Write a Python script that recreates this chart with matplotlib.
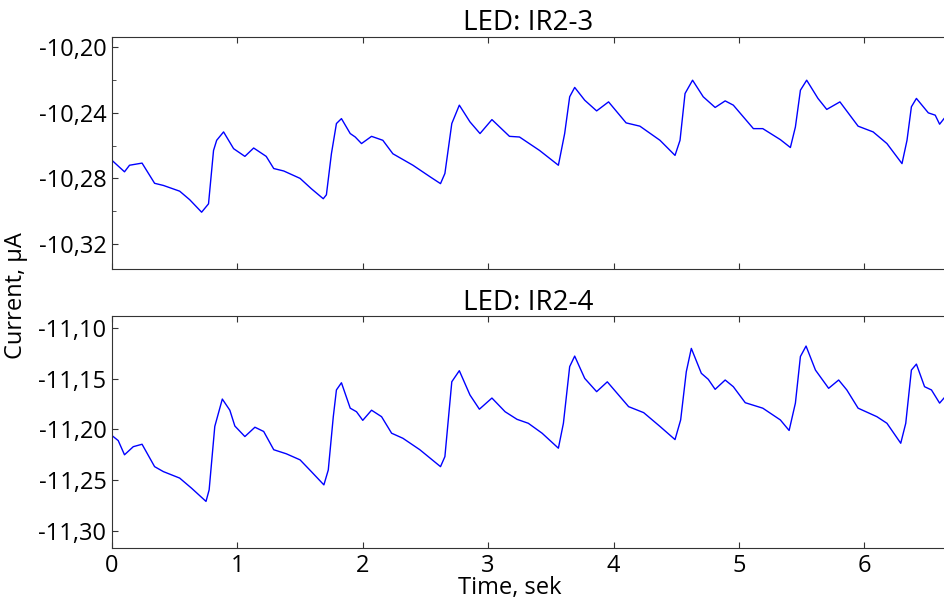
import numpy as np
import matplotlib.pyplot as plt
from matplotlib.ticker import MultipleLocator, FuncFormatter

plt.rcParams['font.family'] = ['Open Sans', 'DejaVu Sans']

# LED IR2-3 (top panel), key points
t_top = [0.00, 0.10, 0.14, 0.24, 0.34, 0.41, 0.54, 0.62, 0.715, 0.77, 0.81, 0.835, 0.89, 0.97,
         1.06, 1.13, 1.23, 1.29, 1.37, 1.50, 1.59, 1.685, 1.71, 1.75, 1.79, 1.83, 1.90, 1.94,
         1.99, 2.07, 2.16, 2.24, 2.40, 2.54, 2.62, 2.655, 2.71, 2.77, 2.855, 2.935, 3.03, 3.17,
         3.25, 3.41, 3.56, 3.61, 3.65, 3.69, 3.77, 3.865, 3.96, 4.10, 4.21, 4.37, 4.49, 4.53,
         4.57, 4.63, 4.715, 4.81, 4.89, 4.955, 5.115, 5.19, 5.33, 5.41, 5.45, 5.49, 5.54, 5.63,
         5.70, 5.805, 5.95, 6.07, 6.18, 6.30, 6.34, 6.375, 6.415, 6.51, 6.565, 6.60, 6.635]
i_top = [-10.269, -10.276, -10.272, -10.2707, -10.283, -10.2843, -10.2878, -10.293, -10.3006,
         -10.2955, -10.263, -10.2568, -10.2517, -10.2619, -10.2666, -10.2615, -10.2666, -10.274,
         -10.2755, -10.280, -10.2863, -10.2924, -10.290, -10.265, -10.2466, -10.2436, -10.2527,
         -10.2548, -10.2588, -10.2544, -10.2568, -10.265, -10.272, -10.2792, -10.2832, -10.277,
         -10.2466, -10.2354, -10.2456, -10.2527, -10.2442, -10.2544, -10.2548, -10.263, -10.272,
         -10.2527, -10.2303, -10.2246, -10.2324, -10.2389, -10.2334, -10.2462, -10.2482, -10.2568,
         -10.266, -10.2568, -10.2283, -10.2202, -10.2303, -10.2368, -10.2328, -10.2354, -10.2497,
         -10.2497, -10.2564, -10.2612, -10.2487, -10.2263, -10.2202, -10.2313, -10.238, -10.2334,
         -10.2482, -10.2517, -10.2588, -10.271, -10.2568, -10.2364, -10.2313, -10.2401, -10.2415,
         -10.247, -10.2436]

# LED IR2-4 (bottom panel)
t_bot = [0.00, 0.05, 0.10, 0.17, 0.24, 0.34, 0.41, 0.54, 0.635, 0.75, 0.775, 0.82, 0.88, 0.94,
         0.98, 1.06, 1.14, 1.21, 1.29, 1.39, 1.50, 1.59, 1.69, 1.725, 1.765, 1.79, 1.83, 1.90,
         1.95, 2.00, 2.07, 2.15, 2.23, 2.32, 2.455, 2.62, 2.655, 2.71, 2.77, 2.855, 2.93, 3.03,
         3.135, 3.23, 3.32, 3.43, 3.56, 3.60, 3.65, 3.69, 3.77, 3.865, 3.95, 4.12, 4.24, 4.37,
         4.49, 4.535, 4.58, 4.62, 4.70, 4.755, 4.81, 4.89, 4.955, 5.05, 5.19, 5.33, 5.40, 5.45,
         5.49, 5.535, 5.61, 5.715, 5.795, 5.86, 5.95, 6.10, 6.18, 6.29, 6.33, 6.375, 6.415, 6.48,
         6.535, 6.60, 6.635]
i_bot = [-11.206, -11.211, -11.225, -11.217, -11.2146, -11.2367, -11.2416, -11.248, -11.258,
         -11.271, -11.2596, -11.197, -11.170, -11.181, -11.1966, -11.207, -11.1978, -11.202,
         -11.220, -11.224, -11.230, -11.2416, -11.2547, -11.240, -11.1874, -11.161, -11.1539,
         -11.179, -11.1825, -11.191, -11.181, -11.1874, -11.2037, -11.2087, -11.220, -11.2367,
         -11.2268, -11.1529, -11.142, -11.166, -11.180, -11.169, -11.1825, -11.190, -11.1939,
         -11.2037, -11.2185, -11.1939, -11.138, -11.1276, -11.1496, -11.1627, -11.153, -11.1775,
         -11.1834, -11.197, -11.210, -11.1906, -11.143, -11.120, -11.1446, -11.1505, -11.1604,
         -11.1512, -11.1578, -11.1736, -11.179, -11.1906, -11.201, -11.174, -11.128, -11.1177,
         -11.1414, -11.1594, -11.1512, -11.161, -11.179, -11.1874, -11.1939, -11.2136, -11.1939,
         -11.1414, -11.1355, -11.1578, -11.161, -11.174, -11.169]

fig = plt.figure(figsize=(9.44, 6.03), dpi=100)
ax1 = fig.add_axes([0.1186, 0.5539, 0.8814, 0.3847])
ax2 = fig.add_axes([0.1186, 0.0912, 0.8814, 0.3848])

comma = FuncFormatter(lambda v, p: ('%.2f' % v).replace('.', ','))

panels = [(ax1, t_top, i_top, 'LED: IR2-3', (-10.3352, -10.1939), 0.04, 0.02),
          (ax2, t_bot, i_bot, 'LED: IR2-4', (-11.317, -11.088), 0.05, None)]
for ax, t, cur, title, ylim, major, minor in panels:
    ax.plot(t, cur, color='#0000ff', lw=1.0)
    ax.set_xlim(0, 6.635)
    ax.set_ylim(*ylim)
    ax.yaxis.set_major_locator(MultipleLocator(major))
    if minor:
        ax.yaxis.set_minor_locator(MultipleLocator(minor))
    ax.xaxis.set_major_locator(MultipleLocator(1))
    ax.yaxis.set_major_formatter(comma)
    ax.tick_params(direction='in', labelsize=17, colors='#333333', labelcolor='black',
                   top=True, length=4, pad=4)
    ax.tick_params(which='minor', direction='in', length=3, colors='#333333')
    ax.spines['right'].set_visible(False)
    for s in ['left', 'top', 'bottom']:
        ax.spines[s].set_color('#333333')
    ax.set_title(title, fontsize=20, pad=4)

ax1.tick_params(labelbottom=False)
fig.text(0.540, 0.025, 'Time, sek', fontsize=17, va='center', ha='center')
fig.text(0.017, 0.51, 'Current, µA', rotation=90, fontsize=17, va='center', ha='center')

plt.savefig('out.png', dpi=100)
